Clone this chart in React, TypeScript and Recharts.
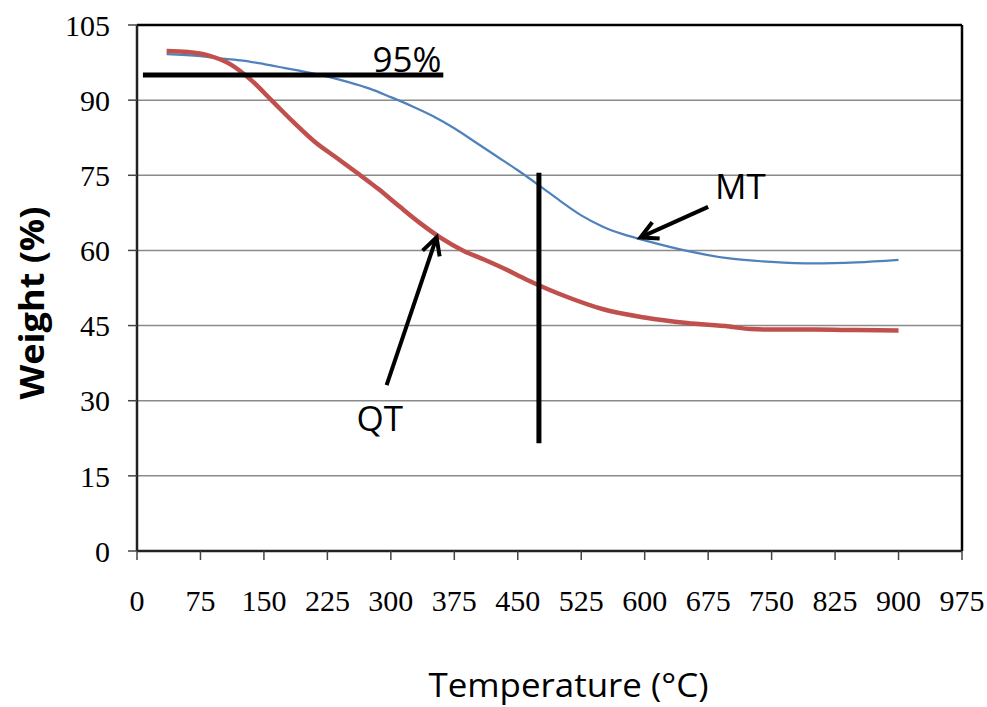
import React from 'react';
import { LineChart, Line, XAxis, YAxis, CartesianGrid, ReferenceLine, ReferenceDot } from 'recharts';

const xTicks = [0, 75, 150, 225, 300, 375, 450, 525, 600, 675, 750, 825, 900, 975];
const yTicks = [0, 15, 30, 45, 60, 75, 90, 105];

const mtTemps = [35, 75, 100, 125, 150, 175, 200, 225, 250, 275, 300, 325, 350, 375, 400, 425, 450, 475, 500, 525, 550, 575, 600, 650, 700, 750, 800, 850, 900];
const mtWeight = [99.2, 98.8, 98.3, 97.9, 97.2, 96.4, 95.6, 94.7, 93.6, 92.3, 90.6, 88.8, 86.8, 84.4, 81.6, 78.8, 76.0, 73.0, 69.9, 67.0, 64.8, 63.2, 62.0, 59.9, 58.4, 57.7, 57.4, 57.6, 58.1];

const qtTemps = [35, 60, 85, 110, 135, 160, 185, 210, 235, 260, 285, 310, 335, 360, 385, 410, 435, 460, 485, 510, 550, 600, 650, 700, 725, 750, 800, 850, 900];
const qtWeight = [99.8, 99.6, 98.9, 97.2, 94.0, 89.8, 85.6, 81.7, 78.6, 75.5, 72.3, 68.8, 65.4, 62.4, 60.0, 58.2, 56.3, 54.2, 52.3, 50.6, 48.3, 46.6, 45.5, 44.8, 44.3, 44.2, 44.2, 44.1, 44.0];

const mtData = mtTemps.map((t, i) => ({ t, w: mtWeight[i] }));
const qtData = qtTemps.map((t, i) => ({ t, w: qtWeight[i] }));

const line95 = [{ x: 7, y: 95 }, { x: 362, y: 95 }];
const vLine = [{ x: 475, y: 75.5 }, { x: 475, y: 21.5 }];
const mtArrow = [{ x: 675, y: 68.7 }, { x: 595, y: 62.6 }];
const qtArrow = [{ x: 295, y: 33.1 }, { x: 354, y: 62.6 }];

const labelFont = '"Open Sans", Lato, sans-serif';
const tickFont = '"Liberation Serif", serif';

const ArrowShape = (props: any) => {
  const { x1, y1, x2, y2 } = props;
  if ([x1, y1, x2, y2].some((v) => v === undefined || isNaN(v))) return null;
  const dx = x2 - x1;
  const dy = y2 - y1;
  const len = Math.sqrt(dx * dx + dy * dy);
  const ux = dx / len;
  const uy = dy / len;
  const hl = 17;
  const hw = 9;
  const bx = x2 - ux * hl;
  const by = y2 - uy * hl;
  const p1 = `${bx - uy * hw},${by + ux * hw}`;
  const p2 = `${bx + uy * hw},${by - ux * hw}`;
  return (
    <g>
      <line x1={x1} y1={y1} x2={x2 - ux * 3} y2={y2 - uy * 3} stroke="#000" strokeWidth={4} />
      <polyline points={`${p1} ${x2},${y2} ${p2}`} fill="none" stroke="#000" strokeWidth={4} strokeLinejoin="miter" />
    </g>
  );
};

const textLabel = (value: string) => ({
  value,
  position: 'center' as const,
  fill: '#000',
  fontSize: 35,
  fontFamily: labelFont,
});

export default function App() {
  return (
    <div style={{ position: 'absolute', left: 0, top: 0, background: '#fff' }}>
      <LineChart width={987} height={707} margin={{ top: 25, right: 25, bottom: 0, left: 0 }}>
        <CartesianGrid horizontal vertical={false} stroke="#8a8a8a" strokeWidth={1.5} />
        <XAxis
          type="number"
          dataKey="t"
          domain={[0, 975]}
          ticks={xTicks}
          interval={0}
          height={156}
          axisLine={{ stroke: '#222', strokeWidth: 2.5 }}
          tickLine={{ stroke: '#444', strokeWidth: 1.5 }}
          tickSize={9}
          tickMargin={30}
          tick={{ fill: '#000', fontSize: 30, fontFamily: tickFont }}
          label={{
            content: (p: any) => {
              const vb = p.viewBox;
              return (
                <text x={vb.x + vb.width / 2 + 19} y={vb.y + 146} textAnchor="middle" fontSize={32} textLength={280} lengthAdjust="spacingAndGlyphs" fontFamily={labelFont} fill="#000">
                  Temperature (°C)
                </text>
              );
            },
          }}
        />
        <YAxis
          type="number"
          domain={[0, 105]}
          ticks={yTicks}
          interval={0}
          width={137}
          axisLine={{ stroke: '#222', strokeWidth: 2.5 }}
          tickLine={{ stroke: '#444', strokeWidth: 1.5 }}
          tickSize={9}
          tickMargin={18}
          tick={{ fill: '#000', fontSize: 30, fontFamily: tickFont }}
          label={{
            content: (p: any) => {
              const vb = p.viewBox;
              const cx = vb.x + 31;
              const cy = vb.y + vb.height / 2 + 15;
              return (
                <text x={cx} y={cy} transform={`rotate(-90 ${cx} ${cy})`} textAnchor="middle" dominantBaseline="central" fontSize={34} textLength={193} lengthAdjust="spacingAndGlyphs" fontWeight="bold" fontFamily={labelFont} fill="#000">
                  Weight (%)
                </text>
              );
            },
          }}
        />
        <ReferenceLine y={105} stroke="#000" strokeWidth={2.5} />
        <ReferenceLine x={975} stroke="#000" strokeWidth={2.5} />
        <Line data={mtData} dataKey="w" type="monotone" stroke="#4F81BD" strokeWidth={2.2} dot={false} isAnimationActive={false} />
        <Line data={qtData} dataKey="w" type="monotone" stroke="#C0504D" strokeWidth={4.5} dot={false} isAnimationActive={false} />
        <ReferenceLine segment={line95} stroke="#000" strokeWidth={5} />
        <ReferenceLine segment={vLine} stroke="#000" strokeWidth={5} />
        <ReferenceLine segment={mtArrow} shape={ArrowShape} />
        <ReferenceLine segment={qtArrow} shape={ArrowShape} />
        <ReferenceDot x={319} y={98} r={0} stroke="none" fill="none" label={textLabel('95%')} />
        <ReferenceDot x={713} y={72.7} r={0} stroke="none" fill="none" label={textLabel('MT')} />
        <ReferenceDot x={287} y={26.5} r={0} stroke="none" fill="none" label={textLabel('QT')} />
      </LineChart>
    </div>
  );
}
